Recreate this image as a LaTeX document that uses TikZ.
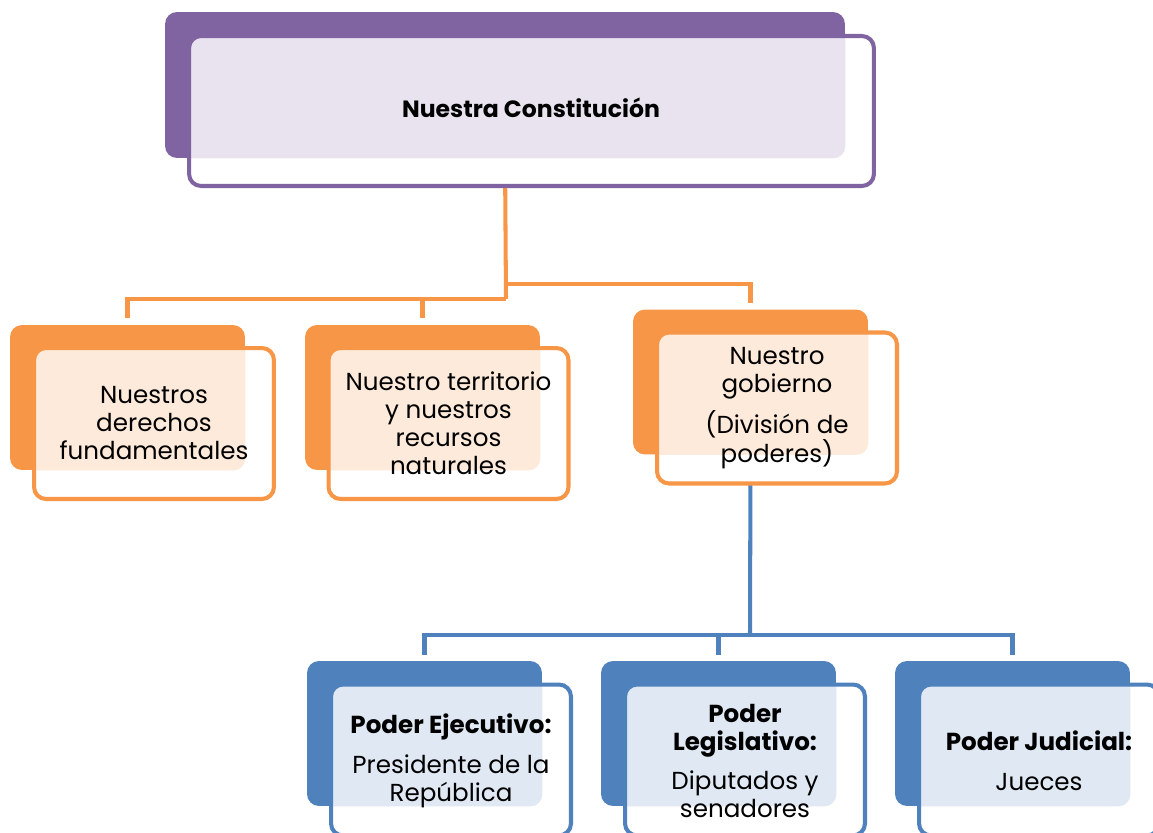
\documentclass[tikz,border=0pt]{standalone}
\usepackage{fontspec}
\setmainfont{Poppins}
\definecolor{cpur}{HTML}{8064A2}
\definecolor{cora}{HTML}{F79646}
\definecolor{cblu}{HTML}{4F81BD}
\tikzset{
  backbox/.style={rectangle, rounded corners=6.8pt, fill=#1, inner sep=0pt, minimum width=4.7cm, minimum height=2.9cm},
  frontbox/.style={rectangle, rounded corners=6.8pt, draw=#1, line width=2.3pt, fill=white, inner sep=0pt, minimum width=4.8cm, minimum height=3.02cm},
  lbl/.style={align=center, font=\fontsize{14}{16}\selectfont, text=black, inner sep=0pt},
  conn/.style={draw=#1, line width=2.3pt},
}
\begin{document}
\begin{tikzpicture}[x=0.02cm,y=-0.02cm]
\path[use as bounding box] (0,0) rectangle (1153,832);
\clip (0,0) rectangle (1153,832);
% junction coordinates
\coordinate (ojL) at (506,299);
\coordinate (ojR) at (506,284);
\coordinate (bj) at (750,635);
% back boxes (needed for connector anchors)
\node[backbox=cpur, minimum width=13.6cm, minimum height=2.92cm] (tb) at (505,85) {};
\node[backbox=cora] (o1b) at (127.5,397.5) {};
\node[backbox=cora] (o2b) at (422.5,397.5) {};
\node[backbox=cora] (o3b) at (750.5,382) {};
\node[backbox=cblu] (c1b) at (424.5,733.5) {};
\node[backbox=cblu] (c2b) at (718.5,733.5) {};
\node[backbox=cblu] (c3b) at (1012.5,733.5) {};
% connectors
\draw[conn=cora] (tb.south) -- (ojL);
\draw[conn=cora, shorten >=0.14cm] (ojL) -| (o1b.north);
\draw[conn=cora, shorten >=0.14cm] (ojL) -| (o2b.north);
\draw[conn=cora, shorten >=0.12cm] (ojR) -| (o3b.north);
\draw[conn=cblu] (o3b.south) -- (bj);
\draw[conn=cblu, shorten >=0.12cm] (bj) -| (c1b.north);
\draw[conn=cblu, shorten >=0.12cm] (bj) -| (c2b.north);
\draw[conn=cblu, shorten >=0.12cm] (bj) -| (c3b.north);
% front boxes
\node[frontbox=cpur, minimum width=13.7cm, minimum height=3.0cm,
  path picture={\fill[cpur!18, rounded corners=6.8pt] (tb.south west) rectangle (tb.north east);}] (tf) at (531.5,111) {};
\node[frontbox=cora, path picture={\fill[cora!20, rounded corners=6.8pt] (o1b.south west) rectangle (o1b.north east);}] (o1f) at (154,423.5) {};
\node[frontbox=cora, path picture={\fill[cora!20, rounded corners=6.8pt] (o2b.south west) rectangle (o2b.north east);}] (o2f) at (448.5,423.5) {};
\node[frontbox=cora, path picture={\fill[cora!20, rounded corners=6.8pt] (o3b.south west) rectangle (o3b.north east);}] (o3f) at (777,408) {};
\node[frontbox=cblu, path picture={\fill[cblu!18, rounded corners=6.8pt] (c1b.south west) rectangle (c1b.north east);}] (c1f) at (451,760) {};
\node[frontbox=cblu, path picture={\fill[cblu!18, rounded corners=6.8pt] (c2b.south west) rectangle (c2b.north east);}] (c2f) at (745,760) {};
\node[frontbox=cblu, path picture={\fill[cblu!18, rounded corners=6.8pt] (c3b.south west) rectangle (c3b.north east);}] (c3f) at (1039,760) {};
% texts
\node[lbl, font=\fontsize{13.4}{16}\selectfont] (tt) at (531,108) {\textbf{Nuestra Constitución}};
\node[lbl] (o1t) at (154,423) {Nuestros\\derechos\\fundamentales};
\node[lbl] (o2t) at (448.5,423) {Nuestro territorio\\y nuestros\\recursos\\naturales};
\node[lbl] (o3t) at (777,408) {Nuestro\\gobierno\\[5.5pt](División de\\poderes)};
\node[lbl] (c1t) at (451,761) {\textbf{Poder Ejecutivo:}\\[6.5pt]Presidente de la\\República};
\node[lbl] (c2t) at (745,761) {\textbf{Poder}\\\textbf{Legislativo:}\\[6.5pt]Diputados y\\senadores};
\node[lbl] (c3t) at (1039,761) {\textbf{Poder Judicial:}\\[6.5pt]Jueces};
\end{tikzpicture}
\end{document}
